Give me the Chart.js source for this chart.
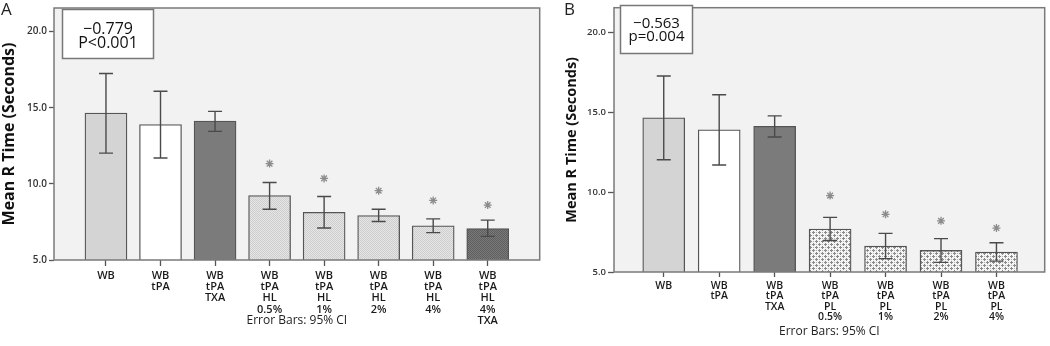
<!DOCTYPE html>
<html><head><meta charset="utf-8">
<script src="https://cdn.jsdelivr.net/npm/chart.js@4.4.1/dist/chart.umd.min.js"></script>
<style>
html,body{margin:0;padding:0;background:#fff;width:1050px;height:346px;overflow:hidden}
#a{position:absolute;left:0;top:0;width:545px;height:346px}
#b{position:absolute;left:545px;top:0;width:505px;height:346px}
</style></head><body>
<div id="a"><canvas id="ca"></canvas></div>
<div id="b"><canvas id="cb"></canvas></div>
<script>
// ---- data ----
const categoriesA = [["WB"],["WB","tPA"],["WB","tPA","TXA"],["WB","tPA","HL","0.5%"],["WB","tPA","HL","1%"],["WB","tPA","HL","2%"],["WB","tPA","HL","4%"],["WB","tPA","HL","4%","TXA"]];
const meansA  = [14.65, 13.90, 14.12, 9.23, 8.13, 7.92, 7.25, 7.06];
const ciLowA  = [12.02, 11.70, 13.45, 8.33, 7.10, 7.53, 6.80, 6.55];
const ciHighA = [17.25, 16.08, 14.76, 10.09, 9.17, 8.33, 7.70, 7.62];
const starsA  = [null, null, null, 11.33, 10.36, 9.55, 8.91, 8.61];

const categoriesB = [["WB"],["WB","tPA"],["WB","tPA","TXA"],["WB","tPA","PL","0.5%"],["WB","tPA","PL","1%"],["WB","tPA","PL","2%"],["WB","tPA","PL","4%"]];
const meansB  = [14.65, 13.90, 14.12, 7.69, 6.62, 6.35, 6.25];
const ciLowB  = [12.02, 11.70, 13.45, 6.97, 5.84, 5.60, 5.68];
const ciHighB = [17.27, 16.09, 14.77, 8.42, 7.42, 7.09, 6.83];
const starsB  = [null, null, null, 9.78, 8.61, 8.20, 7.75];

const yTicks = [5, 10, 15, 20];
const statsA = ["\u22120.779", "P<0.001"];
const statsB = ["\u22120.563", "p=0.004"];
const yTitle = "Mean R Time (Seconds)";
const xTitle = "Error Bars: 95% CI";

// ---- patterns ----
function checker(a, b) {
  const c = document.createElement('canvas'); c.width = 2; c.height = 2;
  const g = c.getContext('2d');
  g.fillStyle = a; g.fillRect(0,0,2,2);
  g.fillStyle = b; g.fillRect(0,0,1,1); g.fillRect(1,1,1,1);
  return g.createPattern(c, 'repeat');
}
function crossPattern() {
  const s = 6;
  const c = document.createElement('canvas'); c.width = s; c.height = s;
  const g = c.getContext('2d');
  g.fillStyle = '#f4f4f4'; g.fillRect(0,0,s,s);
  g.fillStyle = '#8a8a8a';
  const plus = (x,y) => { g.fillRect(x-1, y, 3, 1); g.fillRect(x, y-1, 1, 3); };
  plus(1,1); plus(4,4);
  g.fillStyle = '#b5b5b5';
  g.fillRect(4,1,1,1); g.fillRect(1,4,1,1);
  return g.createPattern(c, 'repeat');
}
const hlLight = checker('#e6e6e6', '#cdcdcd');
const hlDark = checker('#7a7a7a', '#5e5e5e');
const pl = crossPattern();
const colorsA = ['#d4d4d4', '#ffffff', '#7b7b7b', hlLight, hlLight, hlLight, hlLight, hlDark];
const colorsB = ['#d4d4d4', '#ffffff', '#7b7b7b', pl, pl, pl, pl];

// ---- plugins ----
const bgFrame = {
  id: 'bgFrame',
  beforeDraw(chart) {
    const {ctx, chartArea: a} = chart;
    ctx.save(); ctx.fillStyle = '#f2f2f2';
    ctx.fillRect(a.left, a.top, a.width, a.height); ctx.restore();
  },
  afterDatasetsDraw(chart) {
    const {ctx, chartArea: a} = chart;
    ctx.save(); ctx.strokeStyle = '#7a7a7a'; ctx.lineWidth = 1.5;
    ctx.strokeRect(a.left, a.top, a.width, a.height); ctx.restore();
  }
};
const errBars = {
  id: 'errBars',
  afterDatasetsDraw(chart, args, o) {
    const {ctx, scales: {x, y}} = chart;
    ctx.save(); ctx.strokeStyle = '#4a4a4a'; ctx.lineWidth = 1.4;
    o.lo.forEach((lo, i) => {
      const px = x.getPixelForValue(i), y1 = y.getPixelForValue(lo), y2 = y.getPixelForValue(o.hi[i]);
      ctx.beginPath();
      ctx.moveTo(px, y1); ctx.lineTo(px, y2);
      ctx.moveTo(px - 7, y1); ctx.lineTo(px + 7, y1);
      ctx.moveTo(px - 7, y2); ctx.lineTo(px + 7, y2);
      ctx.stroke();
    });
    ctx.restore();
  }
};
const annot = {
  id: 'annot',
  afterDraw(chart, args, o) {
    const ctx = chart.ctx;
    ctx.save();
    ctx.fillStyle = '#222'; ctx.font = o.letterFont; ctx.textAlign = 'left'; ctx.textBaseline = 'middle';
    ctx.fillText(o.letter, o.letterX, o.letterY);
    const b = o.box;
    ctx.fillStyle = '#fff'; ctx.fillRect(b.x, b.y, b.w, b.h);
    ctx.strokeStyle = '#777'; ctx.lineWidth = 1.5; ctx.strokeRect(b.x, b.y, b.w, b.h);
    ctx.fillStyle = '#111'; ctx.font = o.font; ctx.textAlign = 'center';
    o.lines.forEach((t, k) => ctx.fillText(t, b.x + b.w / 2, o.lineY[k]));
    ctx.restore();
  }
};

function makeChart(id, p) {
  return new Chart(document.getElementById(id), {
    type: 'bar',
    data: {
      datasets: [
        { type: 'scatter', data: p.stars.map((v, i) => ({x: i, y: v})).filter(d => d.y !== null),
          pointStyle: 'star', radius: 4, borderColor: '#8c8c8c', borderWidth: 1.3, backgroundColor: 'transparent', order: 0 },
        { type: 'bar', data: p.means.map((v, i) => ({x: i, y: v})), backgroundColor: p.colors,
          borderColor: '#555', borderWidth: 1.3, barThickness: 42, order: 1 }
      ]
    },
    options: {
      responsive: true, maintainAspectRatio: false, animation: false, devicePixelRatio: 1,
      layout: { padding: { left: 0, right: p.padRight, top: 3, bottom: 0 } },
      plugins: {
        legend: { display: false }, tooltip: { enabled: false },
        errBars: { lo: p.lo, hi: p.hi },
        annot: p.annot
      },
      scales: {
        x: {
          type: 'linear', min: p.xMin, max: p.xMax, offset: false,
          afterBuildTicks: s => { s.ticks = p.cats.map((c, i) => ({value: i})); },
          afterFit: s => { s.height = p.xH; },
          ticks: { callback: v => p.cats[v], autoSkip: false, maxRotation: 0, minRotation: 0,
                   font: { family: 'Open Sans', size: p.xFont, lineHeight: p.xLH, weight: '600' }, color: '#1a1a1a', padding: p.xPad },
          grid: { offset: false, drawOnChartArea: false, tickLength: p.xTick, color: '#555', tickWidth: 1.3 },
          border: { display: false },
          title: { display: true, text: xTitle, color: '#222', font: { family: 'Open Sans', size: 12 },
                   padding: { top: 0, bottom: p.xTitlePad } }
        },
        y: {
          min: 5, max: p.yMax,
          afterBuildTicks: s => { s.ticks = yTicks.map(v => ({value: v})); },
          afterFit: s => { s.width = p.yW; },
          ticks: { callback: v => v.toFixed(1), font: { family: 'Open Sans', size: p.yFont, weight: '600' }, color: '#333', padding: p.yPad },
          grid: { drawOnChartArea: false, tickLength: p.yTick, color: '#555', tickWidth: 1.3 },
          border: { display: false },
          title: { display: true, text: yTitle, color: '#111', font: { family: 'Open Sans', size: p.yTitleSize, weight: 'bold' },
                   padding: { top: p.yTitlePad, bottom: 0 } }
        }
      }
    },
    plugins: [bgFrame, errBars, annot]
  });
}

makeChart('ca', {
  cats: categoriesA, means: meansA, lo: ciLowA, hi: ciHighA, stars: starsA, colors: colorsA,
  padRight: 5, xMin: -0.953, xMax: 7.953, xH: 86, xFont: 11, xLH: 1.03, xPad: 4, xTick: 6, xTitlePad: 18,
  yMax: 21.55, yW: 54, yFont: 10, yPad: 2, yTick: 5, yTitleSize: 16, yTitlePad: 0,
  annot: { letter: 'A', letterX: 1, letterY: 10, letterFont: '17px "Open Sans"',
           box: {x: 62.5, y: 9.5, w: 91, h: 49}, font: '16px "Open Sans"', lines: statsA, lineY: [29.5, 43.5] }
});
makeChart('cb', {
  cats: categoriesB, means: meansB, lo: ciLowB, hi: ciHighB, stars: starsB, colors: colorsB,
  padRight: 3, xMin: -0.897, xMax: 6.87, xH: 74, xFont: 10.5, xLH: 1.0, xPad: 3.5, xTick: 5, xTitlePad: 7,
  yMax: 21.54, yW: 69, yFont: 9.5, yPad: 2, yTick: 6, yTitleSize: 14.5, yTitlePad: 18,
  annot: { letter: 'B', letterX: 19, letterY: 10, letterFont: '17px "Open Sans"',
           box: {x: 75.5, y: 5.5, w: 72, h: 48}, font: '15px "Open Sans"', lines: statsB, lineY: [24, 37] }
});
</script>
</body></html>
